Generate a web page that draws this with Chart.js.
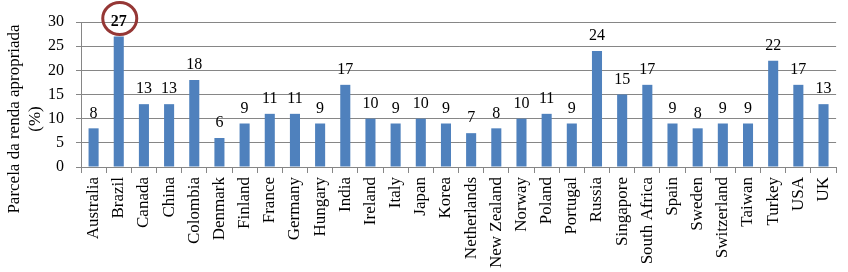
<!DOCTYPE html>
<html>
<head>
<meta charset="utf-8">
<script src="https://cdn.jsdelivr.net/npm/chart.js@4.4.0/dist/chart.umd.min.js"></script>
<style>
  body { margin: 0; background: #fff; }
  canvas { display: block; }
</style>
</head>
<body>
<canvas id="chart" width="848" height="272"></canvas>
<script>
// chart data
const countries = ['Australia', 'Brazil', 'Canada', 'China', 'Colombia', 'Denmark', 'Finland', 'France', 'Germany', 'Hungary',
    'India', 'Ireland', 'Italy', 'Japan', 'Korea', 'Netherlands', 'New Zealand', 'Norway', 'Poland', 'Portugal',
    'Russia', 'Singapore', 'South Africa', 'Spain', 'Sweden', 'Switzerland', 'Taiwan', 'Turkey', 'USA', 'UK'];
const shares = [8, 27, 13, 13, 18, 6, 9, 11, 11, 9,
    17, 10, 9, 10, 9, 7, 8, 10, 11, 9,
    24, 15, 17, 9, 8, 9, 9, 22, 17, 13];
const circledCountry = 'Brazil';
const yTicks = [0, 5, 10, 15, 20, 25, 30];
const yTitle = ['Parcela da renda apropriada', '(%)'];

const serif = '"Liberation Serif", "Times New Roman", serif';

// value labels above each bar + red circle around the highlighted one
const barLabels = {
    id: 'barLabels',
    afterDatasetsDraw(chart) {
        const ctx = chart.ctx;
        const meta = chart.getDatasetMeta(0);
        ctx.save();
        ctx.textAlign = 'center';
        ctx.textBaseline = 'bottom';
        ctx.fillStyle = '#000';
        meta.data.forEach((bar, i) => {
            const circled = countries[i] === circledCountry;
            ctx.font = (circled ? 'bold ' : '') + '16px ' + serif;
            ctx.fillText(String(shares[i]), bar.x, bar.y - 7);
            if (circled) {
                ctx.beginPath();
                ctx.strokeStyle = '#953735';
                ctx.lineWidth = 3;
                ctx.ellipse(bar.x + 1, bar.y - 18, 17, 16, 0, 0, Math.PI * 2);
                ctx.stroke();
            }
        });
        ctx.restore();
    }
};

// y axis title, drawn by hand so it can sit a bit lower than the plot centre
const yTitlePlugin = {
    id: 'yTitlePlugin',
    afterDraw(chart) {
        const ctx = chart.ctx;
        ctx.save();
        ctx.translate(0, 119);
        ctx.rotate(-Math.PI / 2);
        ctx.textAlign = 'center';
        ctx.textBaseline = 'middle';
        ctx.fillStyle = '#000';
        ctx.font = '17px ' + serif;
        ctx.fillText(yTitle[0], 0, 15);
        ctx.fillText(yTitle[1], 0, 36);
        ctx.restore();
    }
};

new Chart(document.getElementById('chart'), {
    type: 'bar',
    data: {
        labels: countries,
        datasets: [{
            data: shares,
            backgroundColor: '#4F81BD',
            barPercentage: 0.4,
            categoryPercentage: 1.0
        }]
    },
    options: {
        responsive: false,
        animation: false,
        layout: { padding: { top: 22, right: 5, left: 0, bottom: 0 } },
        plugins: {
            legend: { display: false },
            tooltip: { enabled: false }
        },
        scales: {
            x: {
                grid: {
                    offset: true,
                    drawOnChartArea: false,
                    drawTicks: true,
                    tickLength: 6,
                    color: '#868686'
                },
                border: { color: '#868686' },
                ticks: {
                    minRotation: 90,
                    maxRotation: 90,
                    autoSkip: false,
                    padding: 4,
                    color: '#000',
                    font: { family: serif, size: 17 }
                },
                afterFit(scale) { scale.height = 105; }
            },
            y: {
                min: 0,
                max: 30,
                afterBuildTicks(scale) { scale.ticks = yTicks.map(v => ({ value: v })); },
                grid: {
                    color: '#868686',
                    tickLength: 5
                },
                border: { color: '#868686' },
                ticks: {
                    padding: 12,
                    color: '#000',
                    font: { family: serif, size: 16 }
                },
                afterFit(scale) { scale.width = 81; }
            }
        }
    },
    plugins: [barLabels, yTitlePlugin]
});
</script>
</body>
</html>
